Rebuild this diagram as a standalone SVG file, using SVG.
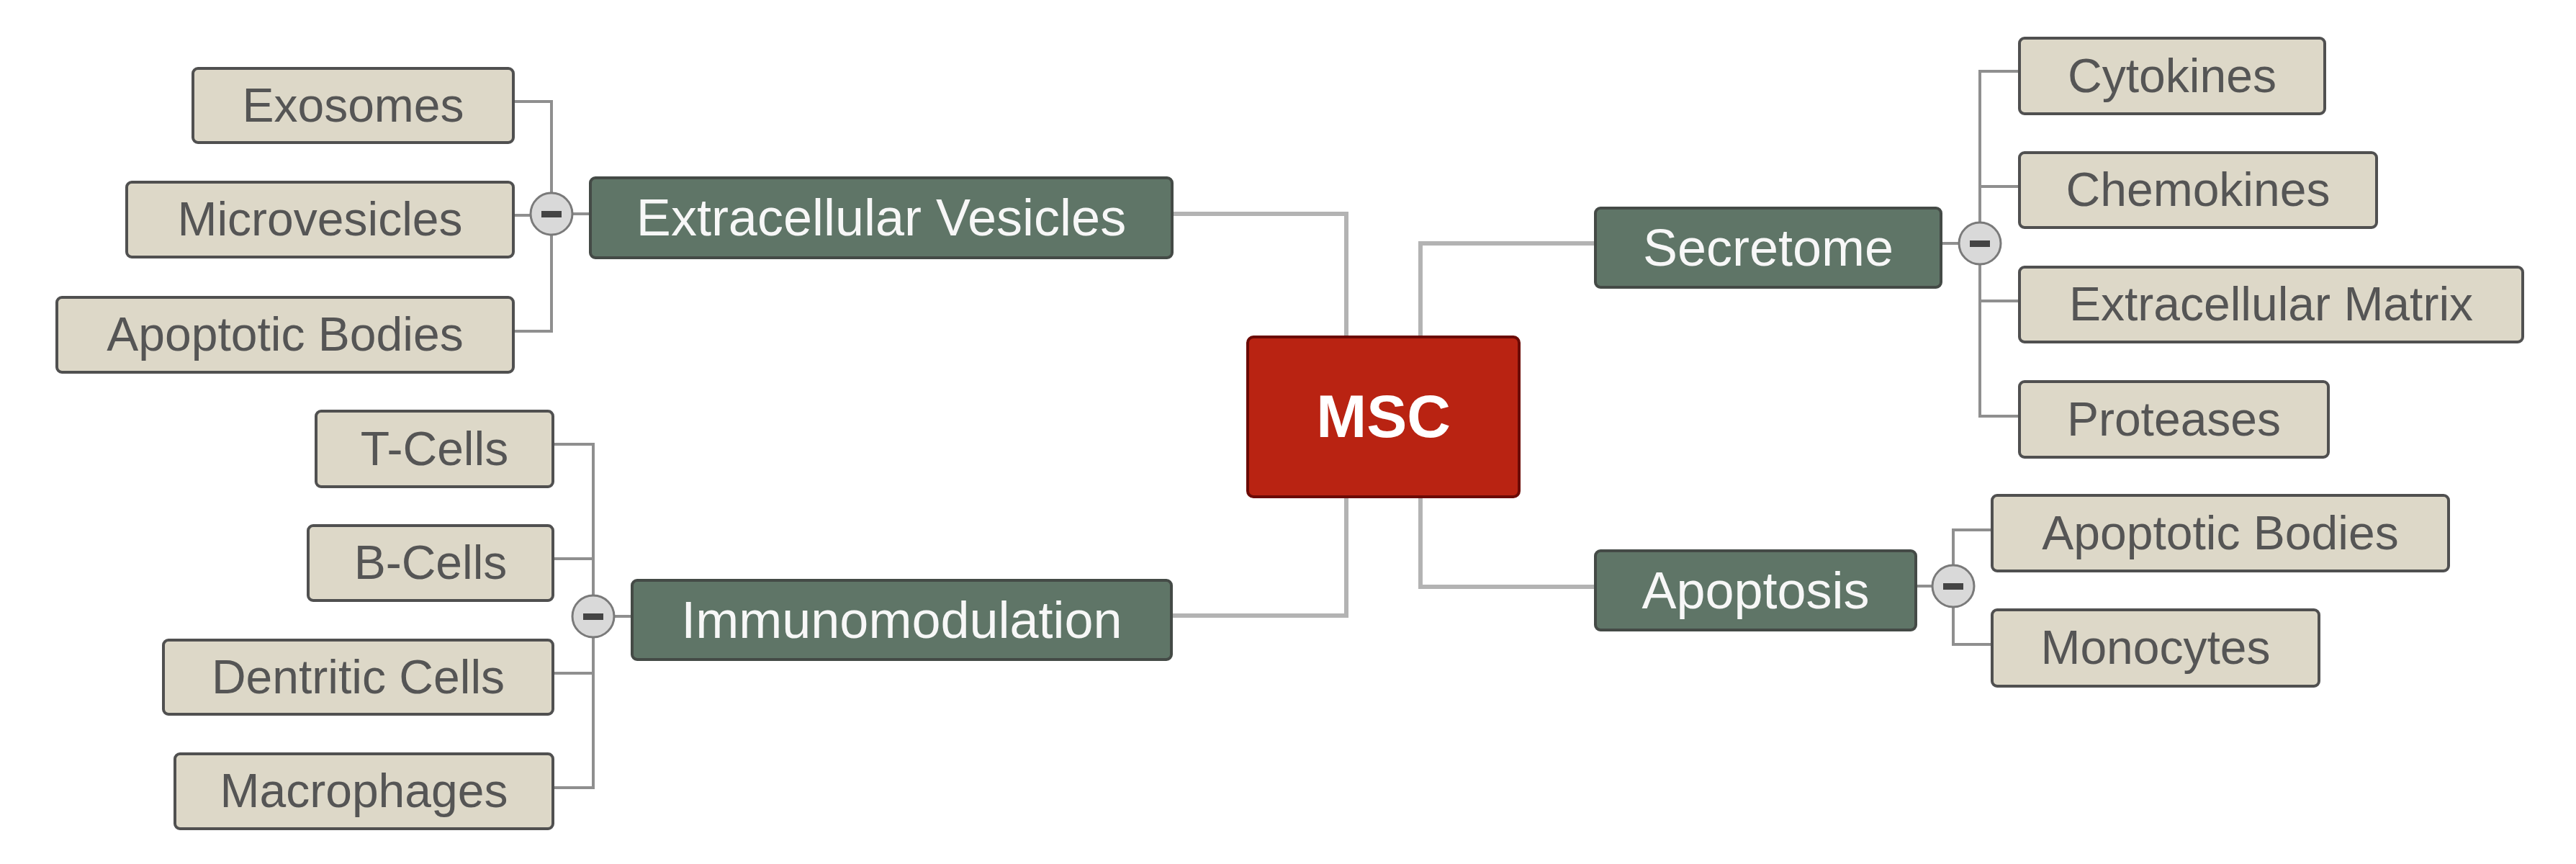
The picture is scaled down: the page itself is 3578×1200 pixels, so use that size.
<svg xmlns="http://www.w3.org/2000/svg" width="3578" height="1200" viewBox="0 0 3578 1200">
<style>
.bg{fill:#ffffff}
.root rect{fill:#b92312;stroke:#6b0a05;stroke-width:4}
.root text{font-family:"Liberation Sans",Arial,sans-serif;font-weight:bold;font-size:84px;fill:#ffffff;text-anchor:middle}
.branch rect.box{fill:#5f7567;stroke:#444a46;stroke-width:4}
.branch text{font-family:"Liberation Sans",Arial,sans-serif;font-size:72px;fill:#f7f7f7;text-anchor:middle}
.leaf rect{fill:#ddd8c8;stroke:#505050;stroke-width:4}
.leaf text{font-family:"Liberation Sans",Arial,sans-serif;font-size:66px;fill:#555555;text-anchor:middle}
.main{fill:none;stroke:#b3b3b3;stroke-width:6}
.sub{fill:none;stroke:#8f8f8f;stroke-width:4}
.toggle circle{fill:#d9d9d9;stroke:#7a7a7a;stroke-width:3}
.toggle rect{fill:#444444}
</style>
<rect class="bg" x="0" y="0" width="3578" height="1200"/>
<g id="connectors">
  <path class="main" d="M1628,297 H1870 V468"/>
  <path class="main" d="M1627,855 H1870 V690"/>
  <path class="main" d="M2216,338 H1973 V468"/>
  <path class="main" d="M2216,815 H1973 V690"/>
  <path class="sub" d="M713,141 H766 V460 H713 M713,299 H766 M766,297 H820"/>
  <path class="sub" d="M768,617 H824 V1094 H768 M768,776 H824 M768,935 H824 M824,856 H878"/>
  <path class="sub" d="M2805,99 H2750 V578 H2805 M2805,259 H2750 M2805,418 H2750 M2696,338 H2750"/>
  <path class="sub" d="M2767,736 H2713 V895 H2767 M2661,814 H2713"/>
</g>
<g id="node-msc" class="root">
  <rect x="1733" y="468" width="377" height="222" rx="8"/>
  <text x="1921.5" y="607">MSC</text>
</g>
<g id="node-ev" class="branch">
  <rect class="box" x="820" y="247" width="808" height="111" rx="7"/>
  <text x="1224" y="327">Extracellular Vesicles</text>
</g>
<g id="node-imm" class="branch">
  <rect class="box" x="878" y="806" width="749" height="110" rx="7"/>
  <text x="1252.5" y="886">Immunomodulation</text>
</g>
<g id="node-sec" class="branch">
  <rect class="box" x="2216" y="289" width="480" height="110" rx="7"/>
  <text x="2456" y="369">Secretome</text>
</g>
<g id="node-apop" class="branch">
  <rect class="box" x="2216" y="765" width="445" height="110" rx="7"/>
  <text x="2438.5" y="845">Apoptosis</text>
</g>
<g id="toggle-ev" class="toggle"><circle cx="766" cy="297" r="29"/><rect x="752" y="293" width="28" height="9"/></g>
<g id="toggle-imm" class="toggle"><circle cx="824" cy="856" r="29"/><rect x="810" y="852" width="28" height="9"/></g>
<g id="toggle-sec" class="toggle"><circle cx="2750" cy="338" r="29"/><rect x="2736" y="334" width="28" height="9"/></g>
<g id="toggle-apop" class="toggle"><circle cx="2713" cy="814" r="29"/><rect x="2699" y="810" width="28" height="9"/></g>
<g id="node-exosomes" class="leaf"><rect x="268" y="95" width="445" height="103" rx="7"/><text x="490.5" y="169">Exosomes</text></g>
<g id="node-microvesicles" class="leaf"><rect x="176" y="253" width="537" height="104" rx="7"/><text x="444.5" y="327">Microvesicles</text></g>
<g id="node-apoptotic-bodies-l" class="leaf"><rect x="79" y="413" width="634" height="104" rx="7"/><text x="396" y="487">Apoptotic Bodies</text></g>
<g id="node-tcells" class="leaf"><rect x="439" y="571" width="329" height="105" rx="7"/><text x="603.5" y="646">T-Cells</text></g>
<g id="node-bcells" class="leaf"><rect x="428" y="730" width="340" height="104" rx="7"/><text x="598" y="804">B-Cells</text></g>
<g id="node-dentritic" class="leaf"><rect x="227" y="889" width="541" height="103" rx="7"/><text x="497.5" y="963">Dentritic Cells</text></g>
<g id="node-macrophages" class="leaf"><rect x="243" y="1047" width="525" height="104" rx="7"/><text x="505.5" y="1121">Macrophages</text></g>
<g id="node-cytokines" class="leaf"><rect x="2805" y="53" width="424" height="105" rx="7"/><text x="3017" y="128">Cytokines</text></g>
<g id="node-chemokines" class="leaf"><rect x="2805" y="212" width="496" height="104" rx="7"/><text x="3053" y="286">Chemokines</text></g>
<g id="node-ecm" class="leaf"><rect x="2805" y="371" width="699" height="104" rx="7"/><text x="3154.5" y="445">Extracellular Matrix</text></g>
<g id="node-proteases" class="leaf"><rect x="2805" y="530" width="429" height="105" rx="7"/><text x="3019.5" y="605">Proteases</text></g>
<g id="node-apoptotic-bodies-r" class="leaf"><rect x="2767" y="688" width="634" height="105" rx="7"/><text x="3084" y="763">Apoptotic Bodies</text></g>
<g id="node-monocytes" class="leaf"><rect x="2767" y="847" width="454" height="106" rx="7"/><text x="2994" y="922">Monocytes</text></g>
</svg>
